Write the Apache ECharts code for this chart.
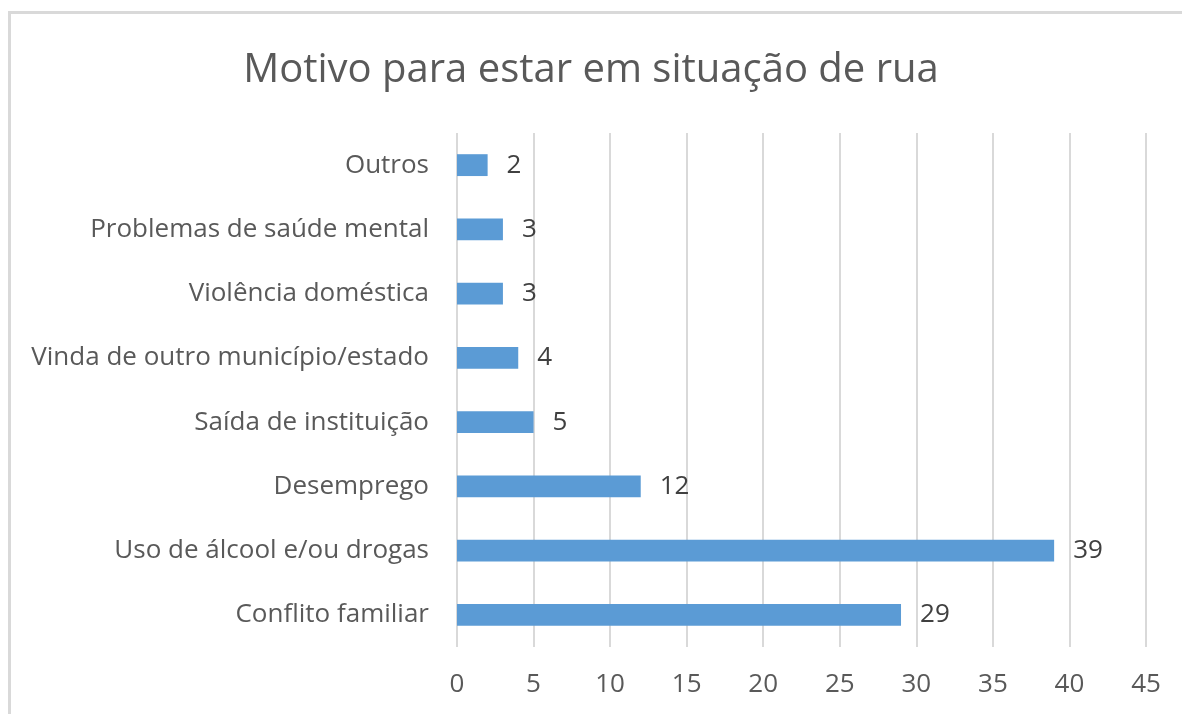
<!DOCTYPE html>
<html>
<head>
<meta charset="utf-8">
<script src="https://cdn.jsdelivr.net/npm/echarts@6/dist/echarts.min.js"></script>
<style>
  html, body { margin: 0; padding: 0; background: #fff; }
  #chart { width: 1182px; height: 714px; }
  #frame {
    position: absolute; left: 8px; top: 11px; width: 1200px; height: 720px;
    border-left: 3px solid #d9d9d9; border-top: 3px solid #d9d9d9;
    pointer-events: none;
  }
</style>
</head>
<body>
<div id="chart"></div>
<div id="frame"></div>
<script>
// categorias (de baixo para cima, como no Excel)
const categorias = ['Conflito familiar', 'Uso de álcool e/ou drogas', 'Desemprego', 'Saída de instituição',
  'Vinda de outro município/estado', 'Violência doméstica', 'Problemas de saúde mental', 'Outros'];
const valores = [29, 39, 12, 5, 4, 3, 3, 2];
const tituloGrafico = 'Motivo para estar em situação de rua';

const fonte = '"Open Sans", "Noto Sans", sans-serif';

var myChart = echarts.init(document.getElementById('chart'));
var option = {
  backgroundColor: '#fff',
  animation: false,
  title: {
    text: tituloGrafico,
    left: 'center',
    top: 46,
    textStyle: { fontFamily: fonte, fontSize: 40, fontWeight: 'normal', color: '#595959' }
  },
  grid: { left: 457, right: 36, top: 133, bottom: 67 },
  xAxis: {
    type: 'value',
    min: 0,
    max: 45,
    interval: 5,
    axisLine: { show: false },
    axisTick: { show: false },
    splitLine: { show: true, lineStyle: { color: '#d9d9d9', width: 2 } },
    axisLabel: { fontFamily: fonte, fontSize: 26, color: '#595959', margin: 25 }
  },
  yAxis: {
    type: 'category',
    data: categorias,
    axisLine: { show: false },
    axisTick: { show: false },
    axisLabel: { fontFamily: fonte, fontSize: 26, color: '#595959', margin: 28 }
  },
  series: [{
    type: 'bar',
    data: valores,
    barWidth: '34%',
    itemStyle: { color: '#5b9bd5' },
    label: {
      show: true,
      position: 'right',
      distance: 19,
      fontFamily: fonte,
      fontSize: 26,
      color: '#404040'
    }
  }]
};
myChart.setOption(option);

window.addEventListener('resize', function () {
  myChart.resize();
});
</script>
</body>
</html>
